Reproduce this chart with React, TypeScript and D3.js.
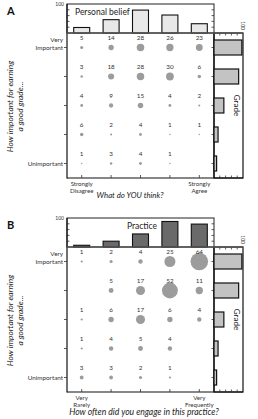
import React from 'react'
import * as d3 from 'd3'

// counts per row (Very Important -> Unimportant) and column (left -> right)
const beliefCounts = [
  [5, 14, 28, 26, 23],
  [3, 18, 28, 30, 6],
  [4, 9, 15, 4, 2],
  [6, 2, 4, 1, 1],
  [1, 3, 4, 1, 0],
]
const practiceCounts = [
  [1, 2, 4, 25, 64],
  [0, 5, 17, 52, 11],
  [1, 6, 17, 6, 4],
  [1, 4, 5, 4, 0],
  [3, 3, 2, 1, 0],
]
const rowLabels = [['Very', 'Important'], [], [], [], ['Unimportant']]
const beliefColLabels = [['Strongly', 'Disagree'], [], [], [], ['Strongly', 'Agree']]
const practiceColLabels = [['Very', 'Rarely'], [], [], [], ['Very', 'Frequently']]
const histTicks = [0, 20, 40, 60, 80, 100]

const FONT = 'Lato, "Open Sans", sans-serif'

interface PanelProps {
  top: number
  letter: string
  title: string
  titleX: number
  counts: number[][]
  colLabels: string[][]
  xTitle: string
  xTitleX: number
  xTitleY: number
  xTitleSize: number
  histFill: string
  rMax: number
}

function Panel(p: PanelProps) {
  const { top, letter, title, titleX, counts, colLabels, xTitle, xTitleX, xTitleY, xTitleSize, histFill, rMax } = p
  const left = 67
  const right = 214
  const histTop = top + 4
  const plotTop = top + 33
  const plotBottom = top + 178
  const gradeRight = 243

  const idx = d3.range(5)
  const x = d3.scaleBand<number>().domain(idx).range([left, right])
  const y = d3.scaleBand<number>().domain(idx).range([plotTop, plotBottom])
  const cx = (i: number) => (x(i) ?? 0) + x.bandwidth() / 2
  const cy = (i: number) => (y(i) ?? 0) + y.bandwidth() / 2
  const histY = d3.scaleLinear().domain([0, 100]).range([plotTop, histTop])
  const gradeX = d3.scaleLinear().domain([0, 100]).range([right, gradeRight])
  const maxVal = d3.max(counts.flat()) ?? 1
  const r = d3.scaleSqrt().domain([0, maxVal]).range([0, rMax])

  const colTotals = idx.map(c => d3.sum(counts, row => row[c]))
  const rowTotals = counts.map(row => d3.sum(row))
  const innerTicks = histTicks.slice(1, -1)

  return (
    <g fontFamily={FONT}>
      <text x={7} y={top + 15} fontSize={11} fontWeight="bold" fill="#111">{letter}</text>

      {/* top histogram */}
      <rect x={left} y={histTop} width={right - left} height={plotTop - histTop} fill="#fff" stroke="#222" strokeWidth={1} />
      {innerTicks.map(t => (
        <g key={t}>
          <line x1={left} x2={left + 2.5} y1={histY(t)} y2={histY(t)} stroke="#333" strokeWidth={0.8} />
          <line x1={right - 2.5} x2={right} y1={histY(t)} y2={histY(t)} stroke="#333" strokeWidth={0.8} />
        </g>
      ))}
      <text x={left - 3} y={histTop + 2} fontSize={5} textAnchor="end" fill="#333">100</text>
      <text x={titleX} y={top + 15} fontSize={8.5} fill="#222">{title}</text>
      {colTotals.map((v, i) => (
        <rect key={i} x={cx(i) - 8} y={histY(v)} width={16} height={plotTop - histY(v)}
          fill={histFill} stroke="#111" strokeWidth={1.1} />
      ))}

      {/* scatter frame */}
      <line x1={left} x2={left} y1={histTop} y2={plotBottom + 0.5} stroke="#111" strokeWidth={1.2} />
      <line x1={left} x2={gradeRight} y1={plotBottom} y2={plotBottom} stroke="#111" strokeWidth={1.2} />
      <line x1={right} x2={right} y1={plotTop} y2={plotBottom} stroke="#111" strokeWidth={1.2} />
      {idx.map(i => (
        <g key={i}>
          <line x1={left - 3} x2={left} y1={cy(i)} y2={cy(i)} stroke="#333" strokeWidth={0.8} />
          <line x1={right - 2.5} x2={right} y1={cy(i)} y2={cy(i)} stroke="#333" strokeWidth={0.8} />
          <line x1={cx(i)} x2={cx(i)} y1={plotBottom - 3} y2={plotBottom} stroke="#333" strokeWidth={0.8} />
        </g>
      ))}

      {/* row labels */}
      {rowLabels.map((lines, i) => lines.map((s, j) => (
        <text key={`${i}-${j}`} x={left - 4} y={cy(i) + (lines.length === 2 ? -6 + j * 8 : 2)}
          fontSize={6.3} textAnchor="end" fill="#333">{s}</text>
      )))}

      {/* column labels */}
      {colLabels.map((lines, i) => lines.map((s, j) => (
        <text key={`${i}-${j}`} x={cx(i)} y={plotBottom + 8 + j * 7}
          fontSize={6.1} textAnchor="middle" fill="#333">{s}</text>
      )))}

      {/* dots and counts */}
      {counts.map((row, ri) => row.map((v, ci) => v > 0 && (
        <g key={`${ri}-${ci}`}>
          <circle cx={cx(ci)} cy={cy(ri)} r={Math.max(r(v), 0.6)} fill="#9c9c9c" />
          <text x={cx(ci)} y={cy(ri) - 7.5} fontSize={6.3} textAnchor="middle" fill="#333">{v}</text>
        </g>
      )))}

      {/* grade panel */}
      <rect x={right} y={plotTop} width={gradeRight - right} height={plotBottom - plotTop} fill="none" stroke="#111" strokeWidth={1.2} />
      {innerTicks.map(t => (
        <g key={t}>
          <line x1={gradeX(t)} x2={gradeX(t)} y1={plotTop} y2={plotTop + 2.5} stroke="#333" strokeWidth={0.8} />
          <line x1={gradeX(t)} x2={gradeX(t)} y1={plotBottom - 2.5} y2={plotBottom} stroke="#333" strokeWidth={0.8} />
        </g>
      ))}
      {rowTotals.map((v, i) => (
        <rect key={i} x={right} y={cy(i) - 7.5} width={gradeX(v) - right} height={15}
          fill="#c3c3c3" stroke="#111" strokeWidth={1.2} />
      ))}
      <text transform={`translate(${gradeRight - 2.5},${plotTop - 3}) rotate(90)`} fontSize={5}
        textAnchor="end" fill="#333">100</text>
      <text transform={`translate(${gradeRight - 9},${(plotTop + plotBottom) / 2}) rotate(90)`} fontSize={8}
        textAnchor="middle" fill="#222">Grade</text>

      {/* divider between histogram and scatter */}
      <line x1={left} x2={gradeRight} y1={plotTop} y2={plotTop} stroke="#555" strokeWidth={1.6} />

      {/* axis titles */}
      <text transform={`translate(13,${(plotTop + plotBottom) / 2 + 1}) rotate(-90)`} fontSize={8.3}
        fontStyle="italic" textAnchor="middle" fill="#222">
        <tspan x={0} dy={0}>How important for earning</tspan>
        <tspan x={0} dy={10}>a good grade...</tspan>
      </text>
      <text x={xTitleX} y={plotBottom + xTitleY} fontSize={xTitleSize} fontStyle="italic"
        textAnchor="middle" fill="#222">{xTitle}</text>
    </g>
  )
}

export default function App() {
  return (
    <svg width={258} height={419} style={{ position: 'absolute', left: 0, top: 0, background: '#fff' }}>
      <Panel top={0} letter="A" title="Personal belief" titleX={75} counts={beliefCounts}
        colLabels={beliefColLabels} xTitle="What do YOU think?" xTitleX={130} xTitleY={20} xTitleSize={7.8}
        histFill="#e8e8e8" rMax={3.9} />
      <Panel top={214} letter="B" title="Practice" titleX={127} counts={practiceCounts}
        colLabels={practiceColLabels} xTitle="How often did you engage in this practice?" xTitleX={144}
        xTitleY={23} xTitleSize={8.6} histFill="#6a6a6a" rMax={8.8} />
    </svg>
  )
}
